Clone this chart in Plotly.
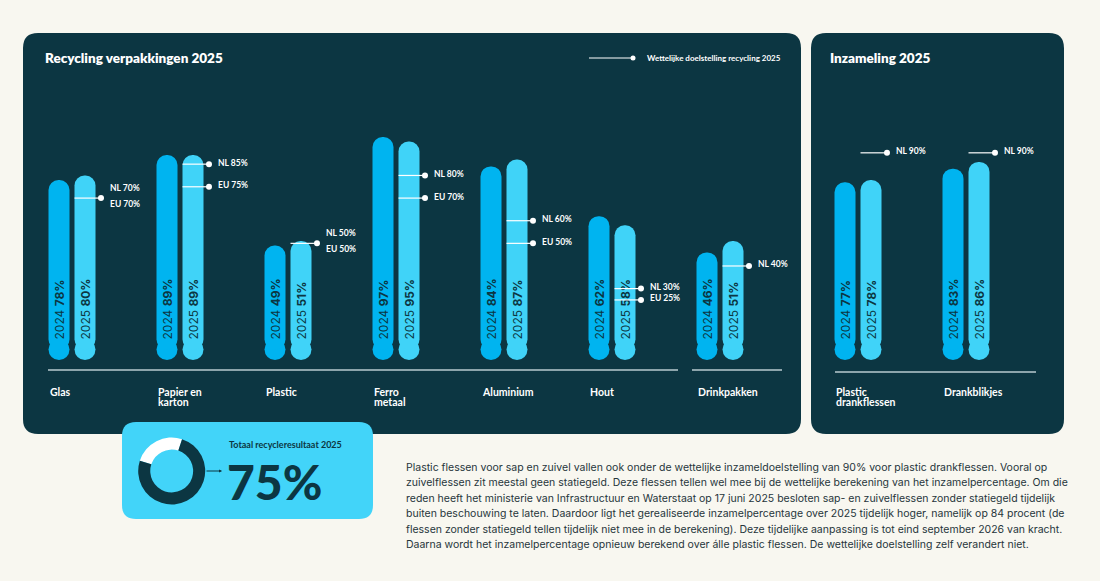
import plotly.graph_objects as go

W, H = 1100, 581

# ---------------- data ----------------
rec_categories = ["Glas", "Papier en<br>karton", "Plastic", "Ferro<br>metaal", "Aluminium", "Hout", "Drinkpakken"]
rec_2024 = [78, 89, 49, 97, 84, 62, 46]
rec_2025 = [80, 89, 51, 95, 87, 58, 51]
rec_target_nl = [70, 85, 50, 80, 60, 30, 40]
rec_target_eu = [70, 75, 50, 70, 50, 25, None]

col_categories = ["Plastic<br>drankflessen", "Drankblikjes"]
col_2024 = [77, 83]
col_2025 = [78, 86]
col_target_nl = [90, 90]

years = ["2024", "2025"]
total_result_2025 = 75

title_left = "Recycling verpakkingen 2025"
title_right = "Inzameling 2025"
legend_text = "Wettelijke doelstelling recycling 2025"
total_label = "Totaal recycleresultaat 2025"
paragraph_lines = [
    "Plastic flessen voor sap en zuivel vallen ook onder de wettelijke inzameldoelstelling van 90% voor plastic drankflessen. Vooral op",
    "zuivelflessen zit meestal geen statiegeld. Deze flessen tellen wel mee bij de wettelijke berekening van het inzamelpercentage. Om die",
    "reden heeft het ministerie van Infrastructuur en Waterstaat op 17 juni 2025 besloten sap- en zuivelflessen zonder statiegeld tijdelijk",
    "buiten beschouwing te laten. Daardoor ligt het gerealiseerde inzamelpercentage over 2025 tijdelijk hoger, namelijk op 84 procent (de",
    "flessen zonder statiegeld tellen tijdelijk niet mee in de berekening). Deze tijdelijke aanpassing is tot eind september 2026 van kracht.",
    "Daarna wordt het inzamelpercentage opnieuw berekend over álle plastic flessen. De wettelijke doelstelling zelf verandert niet.",
]

# ---------------- style ----------------
BG = "#f8f7f0"
PANEL = "#0c3642"
C24 = "#00b4f0"
C25 = "#40d3f8"
BOX = "#42d4f9"
DARK = "#0c3642"
RULE = "#b8cbd0"
TXT = "#26353b"
HEAD = "Lato"
BODY = "Inter"


def px(x):
    return x / W


def py(y):
    return 1 - y / H


# vertical scale (pixels per percent, zero line pixel)
Y0PX = 356.5
K = 2.263
Y_RANGE = [-(H - Y0PX) / K, Y0PX / K]

SLOT = 108.0
BW = 21 / SLOT
OFF24 = -23.5 / SLOT
OFF25 = 2.5 / SLOT
DOT = 29 / SLOT
R_UNITS = 10.5 / K
BOTTOM = -(360 - Y0PX) / K
C0 = BOTTOM + R_UNITS


def rrect(x0, y0, x1, y1, r):
    P = lambda x, y: f"{px(x):.5f},{py(y):.5f}"
    return ("M" + P(x0 + r, y0) + " L" + P(x1 - r, y0) + " Q" + P(x1, y0) + " " + P(x1, y0 + r) +
            " L" + P(x1, y1 - r) + " Q" + P(x1, y1) + " " + P(x1 - r, y1) +
            " L" + P(x0 + r, y1) + " Q" + P(x0, y1) + " " + P(x0, y1 - r) +
            " L" + P(x0, y0 + r) + " Q" + P(x0, y0) + " " + P(x0 + r, y0) + " Z")


fig = go.Figure()
shapes = []
annotations = []

# panels
shapes.append(dict(type="path", path=rrect(23, 33, 801, 434, 15), xref="paper", yref="paper",
                   fillcolor=PANEL, line=dict(width=0), layer="below"))
shapes.append(dict(type="path", path=rrect(811, 33, 1064, 434, 15), xref="paper", yref="paper",
                   fillcolor=PANEL, line=dict(width=0), layer="below"))
shapes.append(dict(type="path", path=rrect(122, 422, 373, 519, 14), xref="paper", yref="paper",
                   fillcolor=BOX, line=dict(width=0), layer="below"))

# base rules
for x0, x1, y in [(48, 678, 370), (692, 782, 370), (835, 1036, 372)]:
    shapes.append(dict(type="line", xref="paper", yref="paper", x0=px(x0), x1=px(x1), y0=py(y), y1=py(y),
                       line=dict(color=RULE, width=1.5), layer="below"))

LBLFONT = dict(family=HEAD, size=8.5, color="white", weight="bold")


def add_panel(xa, ya_base, ya_top, cats, v24, v25, t_nl, t_eu):
    n = len(cats)
    idx = list(range(n))
    for vals, off, col, yr in [(v24, OFF24, C24, years[0]), (v25, OFF25, C25, years[1])]:
        # rounded bottom ends (drawn underneath the bars)
        fig.add_trace(go.Scatter(
            x=[i + off + BW / 2 for i in idx], y=[C0] * n, mode="markers",
            marker=dict(symbol="circle", size=21, color=col, line=dict(width=0)),
            xaxis=xa, yaxis=ya_base, showlegend=False, hoverinfo="skip"))
        fig.add_trace(go.Bar(
            x=idx, y=[v - C0 for v in vals], base=C0, width=BW, offset=off,
            marker=dict(color=col, cornerradius="50%", line=dict(width=0)),
            text=[f"{yr} <b>{v}%</b>" for v in vals], textposition="inside",
            insidetextanchor="start", textangle=-90, constraintext="none",
            insidetextfont=dict(family=BODY, size=12, color=DARK),
            xaxis=xa, yaxis=ya_top, showlegend=False, hoverinfo="skip"))
    # target lines
    lx, ly, mx, my = [], [], [], []
    for i in range(n):
        nl = t_nl[i]
        eu = t_eu[i] if t_eu else None
        tg = []
        for t in (nl, eu):
            if t is not None and t not in tg:
                tg.append(t)
        for t in tg:
            lx += [i + OFF25, i + DOT, None]
            ly += [t, t, None]
            mx.append(i + DOT)
            my.append(t)
        lab_x = i + DOT + 7 / SLOT
        if eu is not None and eu == nl:
            annotations.append(dict(x=lab_x, y=nl, xref=xa, yref=ya_top, text=f"NL {nl}%", showarrow=False,
                                    xanchor="left", yanchor="middle", yshift=10, font=LBLFONT))
            annotations.append(dict(x=lab_x, y=eu, xref=xa, yref=ya_top, text=f"EU {eu}%", showarrow=False,
                                    xanchor="left", yanchor="middle", yshift=-5.5, font=LBLFONT))
        else:
            for lbl, t in (("NL", nl), ("EU", eu)):
                if t is None:
                    continue
                annotations.append(dict(x=lab_x, y=t, xref=xa, yref=ya_top, text=f"{lbl} {t}%", showarrow=False,
                                        xanchor="left", yanchor="middle", yshift=1.5, font=LBLFONT))
    fig.add_trace(go.Scatter(x=lx, y=ly, mode="lines", line=dict(color="white", width=1.2),
                             xaxis=xa, yaxis=ya_top, showlegend=False, hoverinfo="skip"))
    fig.add_trace(go.Scatter(x=mx, y=my, mode="markers", marker=dict(color="white", size=6),
                             xaxis=xa, yaxis=ya_top, showlegend=False, hoverinfo="skip"))
    # category labels
    for i, c in enumerate(cats):
        for k, line in enumerate(c.split("<br>")):
            annotations.append(dict(x=i + OFF24 - 1 / SLOT, y=py(392 + 9.5 * k), xref=xa, yref="paper",
                                    text=line, showarrow=False, xanchor="left", yanchor="middle",
                                    font=dict(family=HEAD, size=10.5, color="white", weight="bold")))


add_panel("x", "y", "y3", rec_categories, rec_2024, rec_2025, rec_target_nl, rec_target_eu)
add_panel("x2", "y2", "y4", col_categories, col_2024, col_2025, col_target_nl, None)

# donut
fig.add_trace(go.Pie(values=[100 - total_result_2025, total_result_2025], sort=False, direction="clockwise",
                     rotation=-72, hole=0.64, marker=dict(colors=["white", DARK], line=dict(width=0)),
                     textinfo="none", hoverinfo="skip", showlegend=False,
                     domain=dict(x=[px(138.2), px(205.2)], y=[py(504.5), py(437.5)])))

# titles
TITLEFONT = dict(family=HEAD, size=13.5, color="white", weight=800)
annotations.append(dict(x=px(43), y=py(58), xref="paper", yref="paper", text=title_left, showarrow=False,
                        xanchor="left", yanchor="middle", font=TITLEFONT))
annotations.append(dict(x=px(828), y=py(58), xref="paper", yref="paper", text=title_right, showarrow=False,
                        xanchor="left", yanchor="middle", font=TITLEFONT))
# legend
shapes.append(dict(type="line", xref="paper", yref="paper", x0=px(589), x1=px(633), y0=py(58), y1=py(58),
                   line=dict(color="white", width=1)))
shapes.append(dict(type="circle", xref="paper", yref="paper", x0=px(630.5), x1=px(635.5), y0=py(60.5), y1=py(55.5),
                   fillcolor="white", line=dict(width=0)))
annotations.append(dict(x=px(645), y=py(58), xref="paper", yref="paper", text=legend_text, showarrow=False,
                        xanchor="left", yanchor="middle", font=dict(family=HEAD, size=8, color="white", weight="bold")))

# total box
annotations.append(dict(x=px(222), y=py(471), ax=-17, ay=0, xref="paper", yref="paper",
                        axref="pixel", ayref="pixel", text="", showarrow=True, arrowhead=2, arrowsize=0.6,
                        arrowwidth=1, arrowcolor=DARK))
annotations.append(dict(x=px(227), y=py(444.5), xref="paper", yref="paper", text=total_label, showarrow=False,
                        xanchor="left", yanchor="middle", font=dict(family=HEAD, size=9, color=DARK, weight="bold")))
annotations.append(dict(x=px(225), y=py(481), xref="paper", yref="paper", text=f"{total_result_2025}%", showarrow=False,
                        xanchor="left", yanchor="middle", font=dict(family=HEAD, size=48, color=DARK, weight=900)))

# paragraph
for k, line in enumerate(paragraph_lines):
    annotations.append(dict(x=px(404), y=py(467.3 + 15.5 * k), xref="paper", yref="paper", text=line,
                            showarrow=False, xanchor="left", yanchor="middle",
                            font=dict(family=BODY, size=10.5, color=TXT)))

axis_common = dict(visible=False, showgrid=False, zeroline=False, fixedrange=True)
fig.update_layout(
    width=W, height=H, autosize=False,
    margin=dict(l=0, r=0, t=0, b=0, pad=0),
    paper_bgcolor=BG, plot_bgcolor="rgba(0,0,0,0)",
    barmode="overlay",
    xaxis=dict(domain=[px(23), px(801)], range=[(23 - 72) / SLOT, (801 - 72) / SLOT], **axis_common),
    yaxis=dict(domain=[0, 1], range=Y_RANGE, **axis_common),
    yaxis3=dict(domain=[0, 1], range=Y_RANGE, overlaying="y", anchor="x", **axis_common),
    xaxis2=dict(domain=[px(811), px(1064)], range=[(811 - 858) / SLOT, (1064 - 858) / SLOT], anchor="y2", **axis_common),
    yaxis2=dict(domain=[0, 1], range=Y_RANGE, anchor="x2", **axis_common),
    yaxis4=dict(domain=[0, 1], range=Y_RANGE, overlaying="y2", anchor="x2", **axis_common),
    shapes=shapes, annotations=annotations,
)

fig.write_html("out.html", config=dict(displayModeBar=False),
               post_script="document.body.style.margin='0';document.body.style.overflow='hidden';")
